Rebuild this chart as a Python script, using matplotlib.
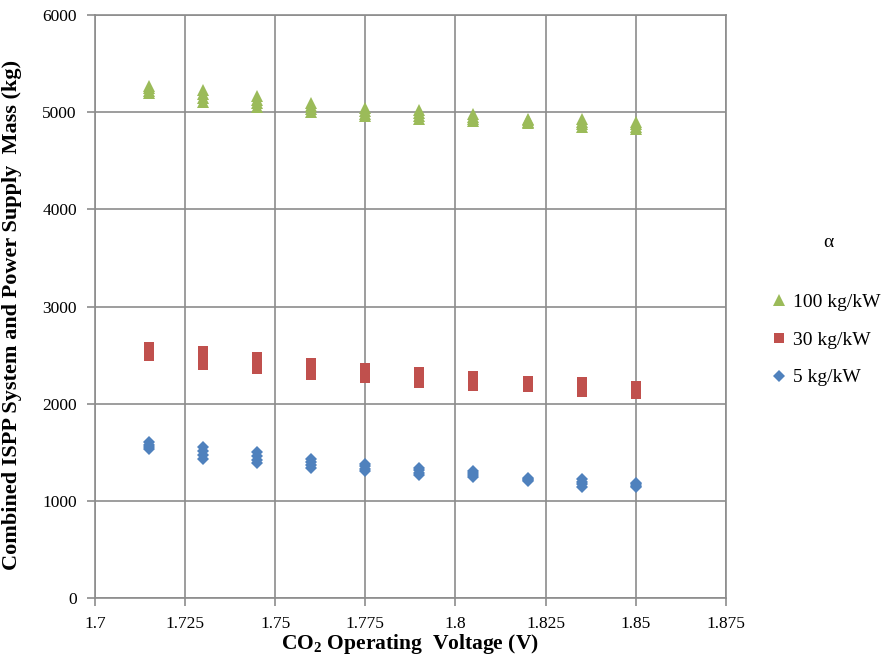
import numpy as np
import matplotlib
matplotlib.use("Agg")
import matplotlib.pyplot as plt
from matplotlib.lines import Line2D

plt.rcParams['font.family'] = ['Liberation Serif', 'DejaVu Serif']
plt.rcParams['mathtext.fontset'] = 'custom'
plt.rcParams['mathtext.rm'] = 'Liberation Serif'
plt.rcParams['mathtext.bf'] = 'Liberation Serif:bold'

# operating voltages (V)
voltage = [1.715, 1.73, 1.745, 1.76, 1.775, 1.79, 1.805, 1.82, 1.835, 1.85]

# several runs per voltage (kg)
mass_100 = [[5270, 5245, 5220, 5200],
            [5228, 5185, 5145, 5104],
            [5166, 5130, 5090, 5053],
            [5094, 5065, 5030, 5002],
            [5043, 5015, 4985, 4960],
            [5022, 4990, 4960, 4930],
            [4980, 4955, 4930, 4909],
            [4930, 4915, 4900, 4888],
            [4930, 4900, 4875, 4847],
            [4899, 4875, 4850, 4827]]

mass_30 = [[2583, 2550, 2520, 2490],
           [2542, 2495, 2445, 2398],
           [2480, 2440, 2400, 2357],
           [2418, 2375, 2335, 2295],
           [2367, 2330, 2295, 2264],
           [2326, 2290, 2250, 2213],
           [2285, 2250, 2215, 2182],
           [2233, 2210, 2190, 2172],
           [2223, 2190, 2155, 2120],
           [2182, 2155, 2125, 2100]]

mass_5 = [[1605, 1580, 1555, 1533],
          [1554, 1510, 1470, 1430],
          [1502, 1465, 1425, 1389],
          [1430, 1400, 1370, 1338],
          [1379, 1355, 1330, 1307],
          [1338, 1315, 1290, 1266],
          [1307, 1285, 1265, 1245],
          [1235, 1225, 1215, 1204],
          [1225, 1195, 1170, 1142],
          [1183, 1170, 1155, 1142]]

green = '#9BBB59'
red = '#C0504D'
blue = '#4F81BD'
gridc = '#8C8C8C'

fig = plt.figure(figsize=(8.96, 6.67), dpi=100)
ax = fig.add_axes([0.106, 0.1034, 0.704, 0.8741])

def draw(data, marker, color, ms):
    for v, runs in zip(voltage, data):
        ax.plot([v] * len(runs), runs, linestyle='none', marker=marker,
                color=color, markersize=ms, markeredgewidth=0, zorder=3)

draw(mass_100, '^', green, 9)
draw(mass_30, 's', red, 7.5)
draw(mass_5, 'D', blue, 6.2)

ax.set_xlim(1.7, 1.875)
ax.set_ylim(0, 6000)
ax.set_xticks(np.arange(1.7, 1.8751, 0.025))
ax.set_xticklabels(['1.7', '1.725', '1.75', '1.775', '1.8', '1.825', '1.85', '1.875'])
ax.set_yticks(range(0, 6001, 1000))
ax.grid(True, color=gridc, linewidth=1.2)
ax.set_axisbelow(True)
for s in ax.spines.values():
    s.set_color(gridc)
    s.set_linewidth(1.2)
ax.tick_params(axis='both', colors=gridc, labelcolor='black', labelsize=12.5,
               length=6, width=1.2)
ax.tick_params(axis='x', pad=7)
ax.tick_params(axis='y', pad=7)

ax.set_xlabel(r'CO$_\mathbf{2}$ Operating  Voltage (V)', fontsize=15.5,
              fontweight='bold', labelpad=0)
ax.set_ylabel('Combined ISPP System and Power Supply  Mass (kg)', fontsize=16,
              fontweight='bold', labelpad=7)
ax.yaxis.set_label_coords(-0.115, 0.485)

fig.text(0.924, 0.637, 'α', fontsize=14, ha='center', va='center')
handles = [Line2D([], [], linestyle='none', marker='^', color=green, markersize=8, markeredgewidth=0),
           Line2D([], [], linestyle='none', marker='s', color=red, markersize=7.5, markeredgewidth=0),
           Line2D([], [], linestyle='none', marker='D', color=blue, markersize=6, markeredgewidth=0)]
fig.legend(handles, ['100 kg/kW', '30 kg/kW', '5 kg/kW'], loc='upper left',
           bbox_to_anchor=(0.852, 0.575), frameon=False, fontsize=14,
           handlelength=0.6, handletextpad=0.4, labelspacing=1.04, borderpad=0)

fig.savefig('out.png', dpi=100)
